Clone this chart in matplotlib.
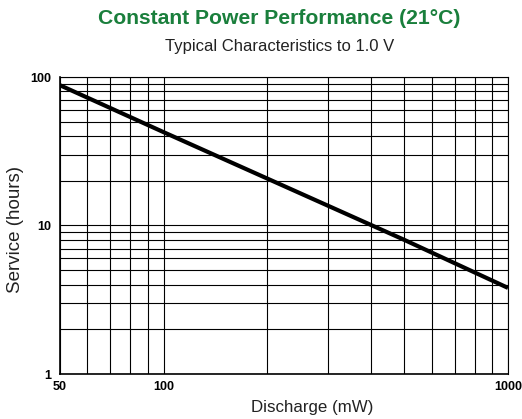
import matplotlib
matplotlib.use("Agg")
import matplotlib.pyplot as plt
from matplotlib.ticker import FixedLocator, NullFormatter, FixedFormatter

plt.rcParams['font.family'] = ['Liberation Sans', 'DejaVu Sans']

# --- data ---
discharge_mw = [50, 100, 200, 500, 1000]
service_hours = [88, 42.5, 20.7, 8.0, 3.8]

x_major = [50, 100, 1000]
x_major_labels = ['50', '100', '1000']
x_minor = [60, 70, 80, 90, 200, 300, 400, 500, 600, 700, 800, 900]
y_major = [1, 10, 100]
y_major_labels = ['1', '10', '100']
y_minor = [2, 3, 4, 5, 6, 7, 8, 9, 20, 30, 40, 50, 60, 70, 80, 90]

fig = plt.figure(figsize=(5.22, 4.19), dpi=100)
ax = fig.add_axes([60 / 522, 45 / 419, 448 / 522, 297 / 419])

ax.set_xscale('log')
ax.set_yscale('log')
ax.set_xlim(50, 1000)
ax.set_ylim(1, 100)

ax.xaxis.set_major_locator(FixedLocator(x_major))
ax.xaxis.set_major_formatter(FixedFormatter(x_major_labels))
ax.xaxis.set_minor_locator(FixedLocator(x_minor))
ax.xaxis.set_minor_formatter(NullFormatter())
ax.yaxis.set_major_locator(FixedLocator(y_major))
ax.yaxis.set_major_formatter(FixedFormatter(y_major_labels))
ax.yaxis.set_minor_locator(FixedLocator(y_minor))
ax.yaxis.set_minor_formatter(NullFormatter())

ax.grid(True, which='both', color='black', linewidth=0.8)
ax.tick_params(which='both', length=0, labelsize=9)
ax.tick_params(axis='x', pad=5)
ax.tick_params(axis='y', pad=6)
for lbl in ax.get_xticklabels() + ax.get_yticklabels():
    lbl.set_fontweight('bold')

for side in ['left', 'bottom']:
    ax.spines[side].set_linewidth(1.2)
for side in ['top', 'right']:
    ax.spines[side].set_linewidth(0.8)

ax.plot(discharge_mw, service_hours, color='black', linewidth=3, solid_capstyle='butt')

ax.set_xlabel('Discharge (mW)', fontsize=12.2, color='#222222', va='center')
ax.xaxis.set_label_coords(0.5625, -0.114)
ax.set_ylabel('Service (hours)', fontsize=13.5, color='#222222', va='center')
ax.yaxis.set_label_coords(-0.1, 0.485)

fig.text(0.535, 0.957, 'Constant Power Performance (21°C)', ha='center', va='center',
         fontsize=15.2, fontweight='bold', color='#1a7f3c')
fig.text(0.536, 0.89, 'Typical Characteristics to 1.0 V', ha='center', va='center',
         fontsize=12, color='#222222')

fig.savefig('out.png', dpi=100)
